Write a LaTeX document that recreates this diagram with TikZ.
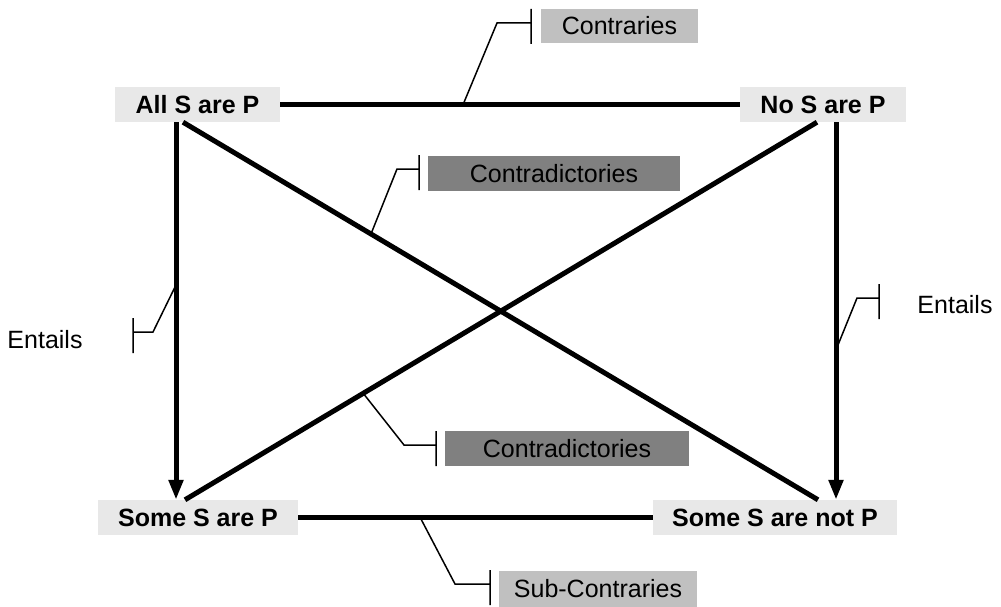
\documentclass[tikz,border=0pt]{standalone}
\usepackage{fontspec}
\setmainfont{Liberation Sans}
\usepackage{tikz}
\usetikzlibrary{arrows.meta}
\usetikzlibrary{calc}

\definecolor{propgray}{RGB}{232,232,232}
\definecolor{relgray}{RGB}{192,192,192}
\definecolor{contragray}{RGB}{128,128,128}

\begin{document}
\begin{tikzpicture}[x=1pt, y=-1pt,
	prop/.style={fill=propgray, font=\fontsize{25}{30}\selectfont\bfseries,
		minimum height=35pt, inner sep=0pt},
	relbox/.style={font=\fontsize{25}{30}\selectfont,
		minimum height=35pt, inner sep=0pt},
	rel/.style={line width=5pt},
	entail/.style={rel, -{Triangle[length=20pt, width=14pt]}},
	lead/.style={line width=1.5pt}]
\useasboundingbox (0,0) rectangle (1001,607);

% The four corners of the square of opposition.
\node[prop, minimum width=165pt] (allSP) at (197.5,104.5) {All S are P};
\node[prop, minimum width=166pt] (noSP) at (823,104.5) {No S are P};
\node[prop, minimum width=200pt] (someSP) at (198,517.5) {Some S are P};
\node[prop, minimum width=244pt] (someSnotP) at (775,517.5) {Some S are not P};

% Names of the relations, in boxes of gray.
\node[relbox, fill=relgray, minimum width=157pt, minimum height=34pt] (contrary) at (619.5,26) {Contraries};
\node[relbox, fill=contragray, minimum width=252pt] (contraUp) at (554,173.5) {Contradictories};
\node[relbox, fill=contragray, minimum width=244pt] (contraLo) at (567,448.5) {Contradictories};
\node[relbox, fill=relgray, minimum width=198pt, minimum height=36pt] (subcontrary) at (598,589) {Sub-Contraries};
\node[relbox] (entailL) at (45,340) {Entails};
\node[relbox] (entailR) at (955,305) {Entails};

% Sides and diagonals of the square; each keeps a point for its leader.
\draw[rel] (allSP.east) -- (noSP.west) coordinate[pos=0.398] (onContrary);
\draw[rel] (someSP.east) -- (someSnotP.west) coordinate[pos=0.344] (onSub);
\draw[entail] ([xshift=-21.5pt]allSP.south) -- ([xshift=-22pt]someSP.north) coordinate[pos=0.431] (onEntL);
\draw[entail] ([xshift=13pt]noSP.south) -- ([xshift=61pt]someSnotP.north) coordinate[pos=0.603] (onEntR);
\draw[rel] ([xshift=-14.5pt]allSP.south) -- ([xshift=43pt]someSnotP.north) coordinate[pos=0.296] (onContraUp);
\draw[rel] ([xshift=-6pt]noSP.south) -- ([xshift=-13pt]someSP.north) coordinate[pos=0.718] (onContraLo);

% Bends and ticks of the leaders.
\coordinate (bendContrary) at (497,23);   \coordinate (tickContrary) at (531,23);
\coordinate (bendContraUp) at (397,169);  \coordinate (tickContraUp) at (419,169);
\coordinate (bendContraLo) at (404,445);  \coordinate (tickContraLo) at (436,445);
\coordinate (bendSub) at (455,584);       \coordinate (tickSub) at (490,584);
\coordinate (bendEntL) at (153,332);      \coordinate (tickEntL) at (133,332);
\coordinate (bendEntR) at (857,298);      \coordinate (tickEntR) at (879,298);

\foreach \a/\b/\c in {onContrary/bendContrary/tickContrary,
	onContraUp/bendContraUp/tickContraUp, onContraLo/bendContraLo/tickContraLo,
	onSub/bendSub/tickSub, onEntL/bendEntL/tickEntL, onEntR/bendEntR/tickEntR}
	\draw[lead] (\a) -- (\b) -- (\c) ++(0,-14) -- ++(0,35);
\end{tikzpicture}
\end{document}
